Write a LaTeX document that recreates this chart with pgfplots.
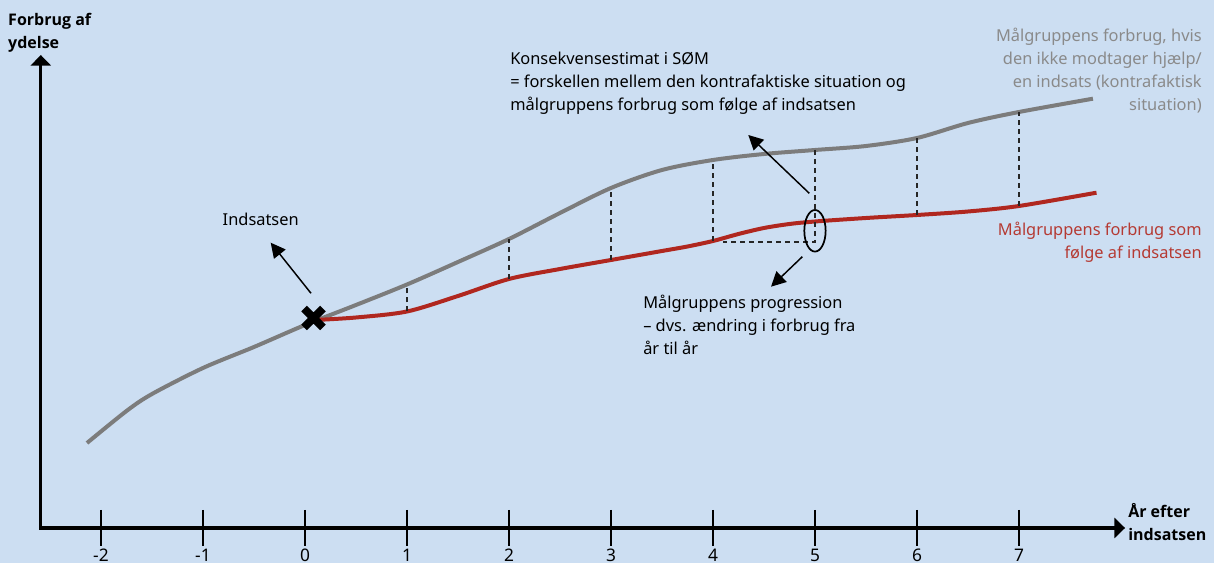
\documentclass[border=0pt]{standalone}
\usepackage{pgfplots}
\pgfplotsset{compat=1.18}
\usepackage{fontspec}
\setmainfont{Noto Sans}
\newfontfamily\bfam{Open Sans}
\usetikzlibrary{arrows.meta}
\definecolor{bg}{HTML}{CCDEF2}
\definecolor{cgray}{HTML}{7C7C7C}
\definecolor{cred}{HTML}{B0271F}
\definecolor{lgray}{HTML}{8A8A8A}
\definecolor{lred}{HTML}{B53A33}
\begin{document}
\begin{tikzpicture}[font=\fontsize{12.3}{17.25}\selectfont]
\begin{axis}[
  hide axis, scale only axis, width=910.5pt, height=422.25pt,
  xmin=-2.990, xmax=8.912, ymin=-0.35, ymax=5.28,
  clip=false,
]
\fill[bg] (rel axis cs:0,0) rectangle (rel axis cs:1,1);
\coordinate (bl) at (rel axis cs:0,0);
\coordinate (tr) at (rel axis cs:1,1);
% axes
\draw[line width=2.4pt, line join=miter,
  {Triangle[length=8pt,width=15pt]}-{Triangle[length=8pt,width=15pt]}]
  (axis cs:-2.59,4.73) -- (axis cs:-2.59,0) -- (axis cs:8.04,0);
\pgfplotsinvokeforeach{-2,...,7}{
  \draw[line width=2.2pt] (axis cs:#1,0.18) -- (axis cs:#1,-0.18);
  \node[anchor=north, inner sep=0pt, font=\fontsize{13}{15}\selectfont] at (axis cs:#1,-0.21) {#1};
}
% curves
\addplot[cgray, line width=3pt, smooth, tension=0.5] coordinates {
  (-2.137,0.85) (-1.75,1.17) (-1.5,1.34) (-1.0,1.60) (-0.5,1.81)
  (0,2.03) (0.5,2.23) (1.0,2.435) (1.5,2.66) (2.0,2.89) (2.5,3.15)
  (3.0,3.40) (3.5,3.58) (4.0,3.68) (4.5,3.74) (5.0,3.78) (5.5,3.82)
  (6.0,3.90) (6.5,4.05) (7.0,4.16) (7.725,4.293)
};
\addplot[cred, line width=3pt, smooth, tension=0.5] coordinates {
  (0.10,2.08) (0.5,2.105) (1.0,2.165) (1.5,2.32) (2.0,2.49)
  (2.5,2.59) (3.0,2.68) (3.5,2.77) (3.75,2.815) (4.0,2.87) (4.25,2.94) (4.5,3.00)
  (4.75,3.04) (5.0,3.065) (5.5,3.10) (6.0,3.13) (6.5,3.165) (7.0,3.22) (7.76,3.353)
};
% dashed
\pgfplotsset{dsh/.style={black!85, line width=1.5pt, dash pattern=on 3.75pt off 3pt}}
\addplot[dsh] coordinates {(1,2.165) (1,2.435)};
\addplot[dsh] coordinates {(2,2.49) (2,2.89)};
\addplot[dsh] coordinates {(3,2.68) (3,3.40)};
\addplot[dsh] coordinates {(4,2.87) (4,3.68)};
\addplot[dsh] coordinates {(5,3.78) (5,2.863) (4.1,2.863)};
\addplot[dsh] coordinates {(6,3.13) (6,3.90)};
\addplot[dsh] coordinates {(7,3.22) (7,4.16)};
% cross
\addplot[black, only marks, mark=x, mark size=10pt, mark options={line width=6pt}] coordinates {(0.084,2.10)};
% ellipse and arrows
\draw[black, line width=1.3pt] (axis cs:5.0,2.972) ellipse [x radius=8pt, y radius=15.6pt];
\draw[black, line width=1.1pt, -{Triangle[length=11pt,width=11pt]}] (axis cs:0.059,2.347) -- (axis cs:-0.336,2.853);
\draw[black, line width=1.1pt, -{Triangle[length=11pt,width=11pt]}] (axis cs:4.944,3.347) -- (axis cs:4.346,3.93);
\draw[black, line width=1.1pt, -{Triangle[length=11pt,width=11pt]}] (axis cs:4.876,2.713) -- (axis cs:4.569,2.413);
% texts
\node[anchor=north west, align=left, inner sep=0pt, font=\fontsize{12}{17.25}\selectfont\bfam\bfseries] at (axis cs:-2.912,5.15) {Forbrug af\\ydelse};
\node[anchor=north west, align=left, inner sep=0pt, font=\fontsize{12}{17.25}\selectfont\bfam\bfseries] at (axis cs:8.069,0.25) {År efter\\indsatsen};
\node[anchor=north west, align=left, inner sep=0pt] at (axis cs:2.01,4.76) {Konsekvensestimat i SØM\\= forskellen mellem den kontrafaktiske situation og\\målgruppens forbrug som følge af indsatsen};
\node[anchor=north east, align=right, inner sep=0pt, text=lgray] at (axis cs:8.794,5.0) {Målgruppens forbrug, hvis\\den ikke modtager hjælp/\\en indsats (kontrafaktisk\\situation)};
\node[anchor=north east, align=right, inner sep=0pt, text=lred] at (axis cs:8.794,3.06) {Målgruppens forbrug som\\følge af indsatsen};
\node[anchor=north west, align=left, inner sep=0pt] at (axis cs:3.314,2.33) {Målgruppens progression\\– dvs. ændring i forbrug fra\\år til år};
\node[anchor=north west, align=left, inner sep=0pt] at (axis cs:-0.809,3.15) {Indsatsen};
\end{axis}
\pgfresetboundingbox
\useasboundingbox (bl) rectangle (tr);
\end{tikzpicture}
\end{document}
